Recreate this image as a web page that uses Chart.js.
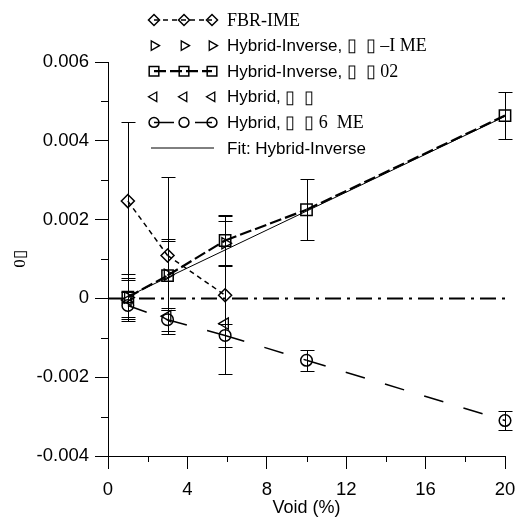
<!DOCTYPE html>
<html>
<head>
<meta charset="utf-8">
<script src="https://cdn.jsdelivr.net/npm/chart.js@4/dist/chart.umd.min.js"></script>
<style>
  body { margin: 0; background: #fff; }
  canvas { display: block; }
</style>
</head>
<body>
<canvas id="chart" width="515" height="520"></canvas>
<script>
// Void content (%) where each method was run
const voidFbr = [1, 3, 5.9];
const voidHybrid = [1, 3, 5.9, 10, 20];

// FBR-IME
const fbrVal = [0.00247, 0.00109, 0.00008];
const fbrErr = [0.002, 0.002, 0.002];

// Hybrid-Inverse, –IME
const invImeVal = [0.00002, 0.00060, 0.00140];
const invImeErr = [0.0005, 0.0009, 0.00056];

// Hybrid-Inverse, 02
const inv02Val = [0.00003, 0.00058, 0.00147, 0.00225, 0.00464];
const inv02Err = [0.0006, 0.00088, 0.00065, 0.00078, 0.0006];

// Hybrid
const hybridVal = [-0.00004, -0.00045, -0.00064];

// Hybrid, 6 ME
const hybrid6Val = [-0.00018, -0.00054, -0.00094, -0.00157, -0.0031];
const hybrid6Err = [0.00035, 0.0003, 0.0003, 0.00026, 0.00023];

// Fit: Hybrid-Inverse (end points)
const fitX = [1, 20];
const fitY = [0.00005, 0.00462];

// Zero reference line
const zeroX = [0, 20];
const zeroY = [0, 0];

const xTicks = [0, 4, 8, 12, 16, 20];
const yTicks = [-0.004, -0.002, 0, 0.002, 0.004, 0.006];

const SANS = '"Liberation Sans", Arial, sans-serif';
const SERIF = '"Liberation Serif", "Times New Roman", serif';

const legendText = [
    [['FBR-IME', SERIF]],
    [['Hybrid-Inverse,', SANS], [' \u25AF  \u25AF \u2013I ME', SERIF]],
    [['Hybrid-Inverse,', SANS], [' \u25AF  \u25AF 02', SERIF]],
    [['Hybrid,', SANS], [' \u25AF  \u25AF', SERIF]],
    [['Hybrid,', SANS], [' \u25AF  \u25AF 6  ME', SERIF]],
    [['Fit: Hybrid-Inverse', SANS]]
];

function pts(xs, ys) {
    return xs.map((x, i) => ({ x: x, y: ys[i] }));
}

// restart the dash pattern at every data point
const resetDash = { borderDashOffset: ctx => ctx.p0DataIndex * 1e-6 };

const black = '#000';
const clear = 'rgba(0,0,0,0)';

const datasets = [
    {
        label: 'FBR-IME', data: pts(voidFbr, fbrVal), errors: fbrErr,
        showLine: true, borderColor: black, borderWidth: 1.5, borderDash: [5, 4], segment: resetDash,
        pointStyle: 'rectRot', pointRadius: 6.5, pointBorderWidth: 1.5, pointBackgroundColor: clear, pointBorderColor: black
    },
    {
        label: 'Hybrid-Inverse, IME', data: pts(voidFbr, invImeVal), errors: invImeErr,
        showLine: false, borderColor: black,
        pointStyle: 'triangle', rotation: 90, pointRadius: 6.5, pointBorderWidth: 1.3, pointBackgroundColor: clear, pointBorderColor: black
    },
    {
        label: 'Hybrid-Inverse, 02', data: pts(voidHybrid, inv02Val), errors: inv02Err,
        showLine: true, borderColor: black, borderWidth: 2.2, borderDash: [12, 4], segment: resetDash,
        pointStyle: 'rect', pointRadius: 8, pointBorderWidth: 1.5, pointBackgroundColor: clear, pointBorderColor: black
    },
    {
        label: 'Hybrid', data: pts(voidFbr, hybridVal),
        showLine: false, borderColor: black,
        pointStyle: 'triangle', rotation: -90, pointRadius: 6.5, pointBorderWidth: 1.3, pointBackgroundColor: clear, pointBorderColor: black
    },
    {
        label: 'Hybrid, 6 ME', data: pts(voidHybrid, hybrid6Val), errors: hybrid6Err,
        showLine: true, borderColor: black, borderWidth: 1.5, borderDash: [20, 21], segment: resetDash,
        pointStyle: 'circle', pointRadius: 5.8, pointBorderWidth: 1.5, pointBackgroundColor: clear, pointBorderColor: black
    },
    {
        label: 'Fit: Hybrid-Inverse', data: pts(fitX, fitY),
        showLine: true, borderColor: black, borderWidth: 1, pointRadius: 0
    },
    {
        label: 'zero', data: pts(zeroX, zeroY),
        showLine: true, borderColor: black, borderWidth: 2, borderDash: [16, 6, 3, 6], pointRadius: 0
    }
];
datasets.forEach(d => { d.clip = false; d.tension = 0; });

// vertical error bars with caps
const errorBars = {
    id: 'errorBars',
    afterDatasetsDraw(chart) {
        const ctx = chart.ctx;
        const xs = chart.scales.x, ys = chart.scales.y;
        ctx.save();
        ctx.strokeStyle = black;
        ctx.lineWidth = 1;
        chart.data.datasets.forEach(ds => {
            if (!ds.errors) return;
            ds.data.forEach((p, i) => {
                const px = Math.round(xs.getPixelForValue(p.x)) + 0.5;
                const top = Math.round(ys.getPixelForValue(p.y + ds.errors[i])) + 0.5;
                const bot = Math.round(ys.getPixelForValue(p.y - ds.errors[i])) + 0.5;
                ctx.beginPath();
                ctx.moveTo(px, top); ctx.lineTo(px, bot);
                ctx.moveTo(px - 7, top); ctx.lineTo(px + 7, top);
                ctx.moveTo(px - 7, bot); ctx.lineTo(px + 7, bot);
                ctx.stroke();
            });
        });
        ctx.restore();
    }
};

// short minor ticks between the labelled ones
const minorTicks = {
    id: 'minorTicks',
    afterDraw(chart) {
        const ctx = chart.ctx;
        const xs = chart.scales.x, ys = chart.scales.y;
        const area = chart.chartArea;
        ctx.save();
        ctx.strokeStyle = black;
        ctx.lineWidth = 1;
        ctx.beginPath();
        for (let i = 0; i < xTicks.length - 1; i++) {
            const px = Math.round(xs.getPixelForValue((xTicks[i] + xTicks[i + 1]) / 2)) + 0.5;
            ctx.moveTo(px, area.bottom); ctx.lineTo(px, area.bottom + 6);
        }
        for (let i = 0; i < yTicks.length - 1; i++) {
            const py = Math.round(ys.getPixelForValue((yTicks[i] + yTicks[i + 1]) / 2)) + 0.5;
            ctx.moveTo(area.left, py); ctx.lineTo(area.left - 7, py);
        }
        ctx.stroke();
        ctx.restore();
    }
};

// legend in the upper part of the plot
const sideLegend = {
    id: 'sideLegend',
    afterDraw(chart) {
        const ctx = chart.ctx;
        const markX = [154, 184, 212];
        const lineX0 = 151, lineX1 = 214, textX = 227;
        ctx.save();
        legendText.forEach((parts, row) => {
            const ds = chart.data.datasets[row];
            const y = 20 + row * 25.6;
            ctx.strokeStyle = black;
            if (ds.showLine) {
                ctx.lineWidth = ds.borderWidth;
                ctx.setLineDash(ds.borderDash || []);
                ctx.beginPath();
                const x0 = ds.pointRadius ? markX[0] : lineX0;
                const x1 = ds.pointRadius ? markX[2] : lineX1;
                ctx.moveTo(x0, y); ctx.lineTo(x1, y);
                ctx.stroke();
                ctx.setLineDash([]);
            }
            if (ds.pointRadius) {
                ctx.lineWidth = ds.pointBorderWidth;
                ctx.fillStyle = clear;
                markX.forEach(mx => {
                    Chart.helpers.drawPoint(ctx, {
                        pointStyle: ds.pointStyle,
                        rotation: ds.rotation || 0,
                        radius: ds.pointRadius * 0.85,
                        borderWidth: ds.pointBorderWidth
                    }, mx, y);
                });
            }
            ctx.fillStyle = black;
            ctx.textBaseline = 'middle';
            ctx.textAlign = 'left';
            let x = textX;
            parts.forEach(([txt, fam]) => {
                ctx.font = (fam === SERIF ? '18px ' : '17px ') + fam;
                ctx.fillText(txt, x, y + 1);
                x += ctx.measureText(txt).width;
            });
        });
        ctx.restore();
    }
};

Chart.defaults.font.family = SANS;
Chart.defaults.color = black;

new Chart(document.getElementById('chart'), {
    type: 'scatter',
    data: { datasets: datasets },
    options: {
        responsive: false,
        animation: false,
        devicePixelRatio: 1,
        layout: { padding: { top: 62, right: 0, left: 0, bottom: 0 } },
        plugins: {
            legend: { display: false },
            tooltip: { enabled: false }
        },
        scales: {
            x: {
                type: 'linear', min: 0, max: 20,
                afterFit: s => { s.height = 64; s.paddingRight = 10; },
                afterBuildTicks: s => { s.ticks = xTicks.map(v => ({ value: v })); },
                ticks: { font: { size: 18.5 }, padding: 10, maxRotation: 0 },
                grid: { drawOnChartArea: false, drawTicks: true, tickLength: 13, color: black },
                border: { color: black, width: 1 },
                title: { display: true, text: 'Void (%)', font: { size: 18 }, padding: { top: 0, bottom: 1 } }
            },
            y: {
                type: 'linear', min: -0.004, max: 0.006,
                afterFit: s => { s.width = 108; },
                afterBuildTicks: s => { s.ticks = yTicks.map(v => ({ value: v })); },
                ticks: {
                    font: { size: 18.5 }, padding: 6,
                    callback: v => (Math.abs(v) < 1e-9 ? '0' : v.toFixed(3))
                },
                grid: { drawOnChartArea: false, drawTicks: true, tickLength: 13, color: black },
                border: { color: black, width: 1 },
                title: { display: true, text: '0\u25AF', font: { size: 17, family: SERIF }, padding: { top: 10, bottom: 0 } }
            }
        }
    },
    plugins: [errorBars, minorTicks, sideLegend]
});
</script>
</body>
</html>
